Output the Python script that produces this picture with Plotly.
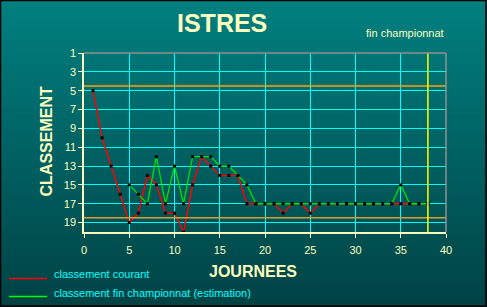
import plotly.graph_objects as go

# ---------------- data ----------------
journees_courant = list(range(1, 39))
classement_courant = [5, 10, 13, 16, 19, 18, 14, 15, 18, 18,
                      20, 15, 12, 13, 14, 14, 14, 17, 17, 17,
                      17, 18, 17, 17, 18, 17, 17, 17, 17, 17,
                      17, 17, 17, 17, 17, 17, 17, 17]
journees_estim = list(range(5, 39))
classement_estim = [15, 16, 17, 12, 17, 13, 17, 12, 12, 12,
                    13, 13, 14, 15, 17, 17, 17, 17, 17, 17,
                    17, 17, 17, 17, 17, 17, 17, 17, 17, 17,
                    15, 17, 17, 17]
x_ticks = [0, 5, 10, 15, 20, 25, 30, 35, 40]
y_ticks = [1, 3, 5, 7, 9, 11, 13, 15, 17, 19]
zone_haut = 4.5
zone_bas = 18.5
fin_journee = 38

# ---------------- layout helpers ----------------
WIDTH, HEIGHT = 487, 307
L, R, T, B = 84, 446, 53, 232
PW, PH = R - L, B - T


def px(x):
    return (x - L) / PW


def py(y):
    return (B - y) / PH


FONT = "Liberation Sans, Arial, sans-serif"
PALE = "#FFFFC0"

fig = go.Figure()

fig.add_trace(go.Scatter(
    x=journees_courant, y=classement_courant, mode="lines+markers",
    line=dict(color="#FF0000", width=1.5),
    marker=dict(symbol="square", size=3, color="black"),
    cliponaxis=False, showlegend=False, name="classement courant"))
fig.add_trace(go.Scatter(
    x=journees_estim, y=classement_estim, mode="lines+markers",
    line=dict(color="#00E000", width=1.3),
    marker=dict(symbol="square", size=3, color="black"),
    cliponaxis=False, showlegend=False,
    name="classement fin championnat (estimation)"))

shapes = []
# gradient background
N = 80
for i in range(N):
    y0 = i * HEIGHT / N
    y1 = (i + 1) * HEIGHT / N + 0.6
    f = (i + 0.5) / N
    g = round(128 - 62 * f)
    b = round(128 - 60 * f)
    shapes.append(dict(type="rect", xref="paper", yref="paper",
                       x0=px(0), x1=px(WIDTH), y0=py(y1), y1=py(y0),
                       fillcolor=f"rgb(0,{g},{b})", line=dict(width=0),
                       layer="below"))
# outer black border
shapes.append(dict(type="rect", xref="paper", yref="paper",
                   x0=px(0.5), x1=px(486), y0=py(306), y1=py(0.5),
                   line=dict(color="black", width=1.5), layer="above"))
# orange reference lines
shapes.append(dict(type="line", xref="paper", yref="y", x0=0, x1=1,
                   y0=zone_haut, y1=zone_haut,
                   line=dict(color="#FFA000", width=1.5), layer="above"))
shapes.append(dict(type="line", xref="paper", yref="y", x0=0, x1=1,
                   y0=zone_bas, y1=zone_bas,
                   line=dict(color="#D8A030", width=1.5), layer="above"))
# end of championship line
shapes.append(dict(type="line", xref="x", yref="paper", x0=fin_journee,
                   x1=fin_journee, y0=0, y1=1,
                   line=dict(color="#FFFF00", width=1.5), layer="above"))
# gray top and right borders
shapes.append(dict(type="line", xref="paper", yref="paper", x0=0, x1=1,
                   y0=1, y1=1, line=dict(color="#909090", width=1.5),
                   layer="above"))
shapes.append(dict(type="line", xref="paper", yref="paper", x0=1, x1=1,
                   y0=0, y1=1, line=dict(color="#909090", width=1.5),
                   layer="above"))
# legend lines
shapes.append(dict(type="line", xref="paper", yref="paper",
                   x0=px(9), x1=px(47), y0=py(278.5), y1=py(278.5),
                   line=dict(color="#FF0000", width=1.5)))
shapes.append(dict(type="line", xref="paper", yref="paper",
                   x0=px(9), x1=px(47), y0=py(296.5), y1=py(296.5),
                   line=dict(color="#00FF00", width=1.5)))

annotations = [
    dict(text="<b>ISTRES</b>", xref="paper", yref="paper", x=px(222),
         y=py(23), xanchor="center", yanchor="middle", showarrow=False,
         font=dict(family=FONT, size=25, color=PALE)),
    dict(text="fin championnat", xref="paper", yref="paper", x=px(446),
         y=py(33), xanchor="right", yanchor="middle", showarrow=False,
         font=dict(family=FONT, size=11, color=PALE)),
    dict(text="<b>CLASSEMENT</b>", xref="paper", yref="paper", x=px(45.5),
         y=py(142), xanchor="center", yanchor="middle", showarrow=False,
         textangle=-90, font=dict(family=FONT, size=16, color=PALE)),
    dict(text="<b>JOURNEES</b>", xref="paper", yref="paper", x=px(253),
         y=py(271), xanchor="center", yanchor="middle", showarrow=False,
         font=dict(family=FONT, size=16, color=PALE)),
    dict(text="classement courant", xref="paper", yref="paper", x=px(52),
         y=py(274), xanchor="left", yanchor="middle", showarrow=False,
         font=dict(family=FONT, size=11, color="#00FFFF")),
    dict(text="classement fin championnat (estimation)", xref="paper",
         yref="paper", x=px(52), y=py(293), xanchor="left",
         yanchor="middle", showarrow=False,
         font=dict(family=FONT, size=11, color="#00FFFF")),
]

fig.update_layout(
    width=WIDTH, height=HEIGHT,
    margin=dict(l=L, r=WIDTH - R, t=T, b=HEIGHT - B, pad=0),
    paper_bgcolor="#006060", plot_bgcolor="rgba(0,0,0,0)",
    font=dict(family=FONT, size=11, color=PALE),
    shapes=shapes, annotations=annotations,
    xaxis=dict(range=[0, 40], tickvals=x_ticks, showgrid=True,
               gridcolor="#00FFFF", gridwidth=1.2, zeroline=False,
               showline=True, linecolor=PALE, linewidth=1.5,
               ticks="outside", ticklen=4, tickcolor=PALE,
               tickfont=dict(family=FONT, size=11, color=PALE),
               ticklabelstandoff=3, fixedrange=True),
    yaxis=dict(range=[20, 1], tickvals=y_ticks, showgrid=True,
               gridcolor="#00FFFF", gridwidth=1.2, zeroline=False,
               showline=True, linecolor=PALE, linewidth=1.5,
               ticks="outside", ticklen=4, tickcolor=PALE,
               tickfont=dict(family=FONT, size=11, color=PALE),
               fixedrange=True),
)

fig.write_html("out.html")
